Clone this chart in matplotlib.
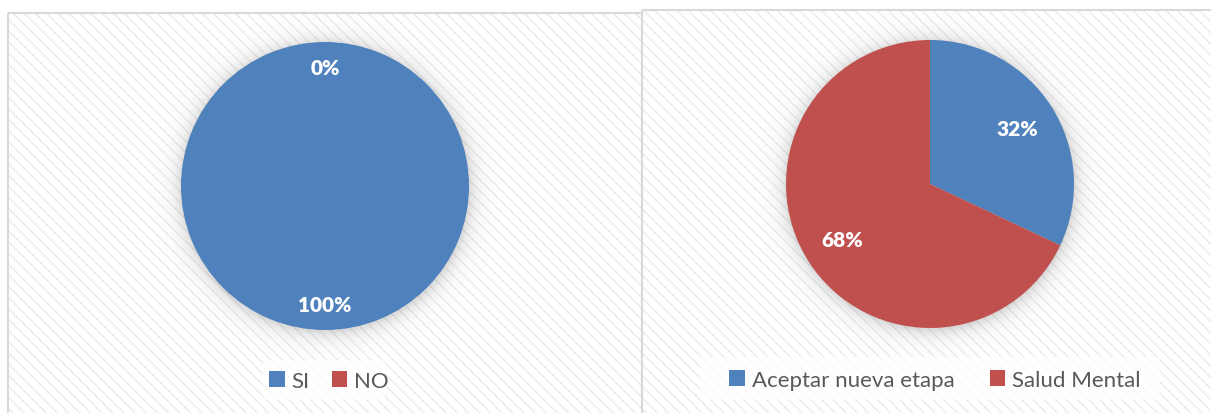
import numpy as np
import matplotlib
matplotlib.use("Agg")
import matplotlib.pyplot as plt
from matplotlib.patches import Rectangle, Patch

plt.rcParams['font.family'] = ['Lato', 'DejaVu Sans']
plt.rcParams['hatch.linewidth'] = 1.1
plt.rcParams['hatch.color'] = '#ececec'

# Data
left_labels = ["SI", "NO"]
left_values = [100, 0]
right_labels = ["Aceptar nueva etapa", "Salud Mental"]
right_values = [32, 68]
colors = ["#4F81BD", "#C0504D"]

W, H = 1211, 414
fig = plt.figure(figsize=(W / 100, H / 100), dpi=100)

# Background canvas in pixel units
bg = fig.add_axes([0, 0, 1, 1])
bg.set_xlim(0, W)
bg.set_ylim(H, 0)
bg.axis('off')

panels = [(7.5, 13.5, 634, 420), (641.5, 10.5, 580, 420)]
for x, y, w, h in panels:
    bg.add_patch(Rectangle((x, y), w, h, facecolor='white', edgecolor='none', zorder=0))
    bg.add_patch(Rectangle((x, y), w, h, facecolor='none', edgecolor='#ececec',
                           hatch='\\\\\\', linewidth=0, zorder=1))
    bg.add_patch(Rectangle((x, y), w, h, facecolor='none', edgecolor='#d9d9d9',
                           linewidth=1.5, zorder=2))

pies = [
    dict(cx=325, cy=187, r=144, values=left_values, labels=left_labels, pct=0.82,
         leg=(329, 382), box=(263, 361, 122, 40), colsp=1.0),
    dict(cx=930, cy=185, r=144, values=right_values, labels=right_labels, pct=0.72,
         leg=(935, 381), box=(700, 358, 460, 43), colsp=1.6),
]

# Soft shadow around each pie
yy, xx = np.mgrid[0:H, 0:W]
shadow = np.zeros((H, W, 4))
shadow[..., :3] = 0.5
alpha = np.zeros((H, W))
for p in pies:
    d = np.hypot(xx - p['cx'], yy - p['cy'] - 1) - p['r']
    a = np.where(d > 0, 0.28 * np.exp(-d / 8.0), 0.28)
    alpha = np.maximum(alpha, a)
shadow[..., 3] = alpha
bg.imshow(shadow, extent=(0, W, H, 0), zorder=3, interpolation='bilinear')

for p in pies:
    bx, by, bw, bh = p['box']
    bg.add_patch(Rectangle((bx, by), bw, bh, facecolor='white', alpha=0.8,
                           edgecolor='none', zorder=4))

    r = p['r']
    ax = fig.add_axes([(p['cx'] - r) / W, 1 - (p['cy'] + r) / H, 2 * r / W, 2 * r / H])
    wedges, texts, autotexts = ax.pie(
        p['values'], colors=colors, startangle=90, counterclock=False,
        autopct='%.0f%%', pctdistance=p['pct'], radius=1,
        wedgeprops=dict(linewidth=0),
        textprops=dict(color='white', fontsize=15, fontweight='heavy'))
    ax.set_xlim(-1, 1)
    ax.set_ylim(-1, 1)
    ax.set_aspect('equal')
    ax.axis('off')

    handles = [Patch(facecolor=c, edgecolor='none') for c in colors]
    lx, ly = p['leg']
    fig.legend(handles, p['labels'], loc='center', bbox_to_anchor=(lx / W, 1 - ly / H),
               ncol=2, frameon=False, fontsize=16, handlelength=0.7, handleheight=0.7,
               handletextpad=0.3, columnspacing=p['colsp'], labelcolor='#595959')

fig.savefig("out.png", dpi=100)
